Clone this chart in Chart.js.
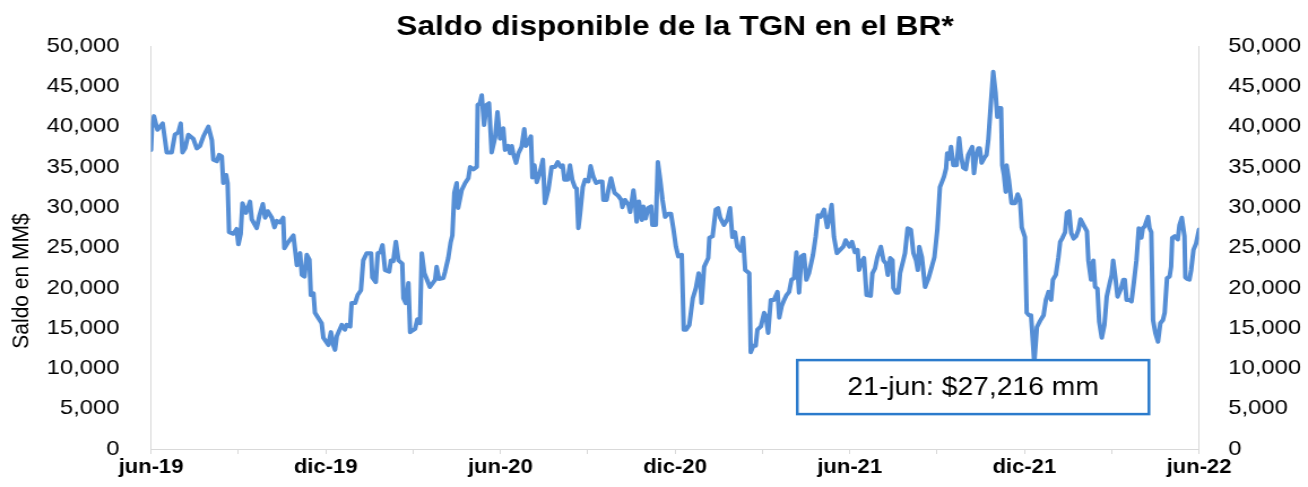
<!DOCTYPE html>
<html lang="es">
<head>
<meta charset="utf-8">
<title>Saldo disponible de la TGN en el BR</title>
<script src="https://cdn.jsdelivr.net/npm/chart.js@4.4.1/dist/chart.umd.min.js"></script>
<style>
    html, body { margin: 0; padding: 0; background: #fff; overflow: hidden; }
    /* el original está estirado en horizontal (~1.13), se reproduce igual */
    #wrap { width: 1157px; height: 487px; transform: scaleX(1.1305); transform-origin: 0 0; }
</style>
</head>
<body>
<div id="wrap"><canvas id="chart-saldo"></canvas></div>
<script>
const titulo = 'Saldo disponible de la TGN en el BR*';
const tituloEjeY = 'Saldo en MM$';
const etiquetasX = ['jun-19', 'dic-19', 'jun-20', 'dic-20', 'jun-21', 'dic-21', 'jun-22'];
const ultimaFecha = '21-jun';

// meses transcurridos desde jun-19
const meses = [
    0.00, 0.03, 0.10, 0.22, 0.40, 0.54, 0.71, 0.82, 0.94, 1.02, 1.08, 1.17, 1.28, 1.45, 1.57, 1.68, 1.80, 1.97, 2.09, 2.14,
    2.26, 2.34, 2.43, 2.48, 2.58, 2.63, 2.68, 2.83, 2.94, 3.00, 3.08, 3.14, 3.26, 3.40, 3.46, 3.63, 3.72, 3.84, 3.92, 4.01,
    4.15, 4.24, 4.32, 4.43, 4.54, 4.58, 4.72, 4.89, 5.01, 5.12, 5.18, 5.27, 5.35, 5.44, 5.49, 5.58, 5.63, 5.86, 5.92, 6.09,
    6.18, 6.26, 6.32, 6.38, 6.55, 6.66, 6.72, 6.84, 6.89, 7.01, 7.10, 7.21, 7.29, 7.41, 7.56, 7.60, 7.72, 7.79, 7.87, 7.95,
    8.04, 8.18, 8.24, 8.32, 8.41, 8.50, 8.63, 8.67, 8.75, 8.84, 8.90, 8.98, 9.07, 9.15, 9.24, 9.30, 9.39, 9.58, 9.76, 9.81,
    9.89, 10.04, 10.10, 10.21, 10.29, 10.35, 10.42, 10.50, 10.55, 10.67, 10.79, 10.90, 10.96, 11.07, 11.19, 11.22, 11.30, 11.36, 11.44, 11.53,
    11.61, 11.70, 11.82, 11.90, 11.99, 12.10, 12.16, 12.27, 12.33, 12.39, 12.44, 12.54, 12.62, 12.73, 12.82, 12.88, 12.96, 13.05, 13.10, 13.17,
    13.25, 13.36, 13.46, 13.53, 13.65, 13.76, 13.88, 13.97, 14.07, 14.14, 14.20, 14.31, 14.39, 14.47, 14.56, 14.62, 14.68, 14.74, 14.83, 14.91,
    15.02, 15.10, 15.19, 15.29, 15.42, 15.50, 15.54, 15.65, 15.73, 15.80, 15.92, 16.05, 16.15, 16.19, 16.28, 16.40, 16.46, 16.57, 16.63, 16.68,
    16.76, 16.86, 16.91, 16.99, 17.08, 17.18, 17.22, 17.34, 17.41, 17.49, 17.57, 17.66, 17.77, 17.86, 17.94, 18.03, 18.11, 18.23, 18.30, 18.38,
    18.49, 18.61, 18.72, 18.81, 18.87, 18.91, 19.00, 19.14, 19.18, 19.29, 19.40, 19.48, 19.55, 19.68, 19.80, 19.89, 19.97, 20.06, 20.14, 20.26,
    20.34, 20.41, 20.55, 20.60, 20.69, 20.77, 20.83, 20.95, 21.06, 21.12, 21.20, 21.29, 21.40, 21.52, 21.58, 21.66, 21.75, 21.83, 21.92, 22.00,
    22.09, 22.17, 22.26, 22.34, 22.43, 22.51, 22.60, 22.74, 22.83, 22.91, 23.00, 23.12, 23.23, 23.31, 23.38, 23.46, 23.56, 23.67, 23.78, 23.86,
    23.99, 24.08, 24.18, 24.27, 24.32, 24.41, 24.49, 24.58, 24.72, 24.78, 24.87, 24.95, 25.07, 25.16, 25.25, 25.31, 25.39, 25.47, 25.50, 25.59,
    25.67, 25.73, 25.84, 25.90, 25.99, 26.10, 26.19, 26.28, 26.34, 26.39, 26.48, 26.59, 26.70, 26.82, 26.91, 27.01, 27.10, 27.24, 27.31, 27.35,
    27.42, 27.48, 27.56, 27.67, 27.76, 27.82, 27.90, 27.99, 28.07, 28.21, 28.27, 28.34, 28.42, 28.47, 28.53, 28.62, 28.70, 28.76, 28.84, 28.93,
    29.01, 29.07, 29.13, 29.20, 29.24, 29.30, 29.36, 29.39, 29.47, 29.56, 29.68, 29.77, 29.85, 29.91, 30.02, 30.08, 30.16, 30.23, 30.34, 30.43,
    30.54, 30.66, 30.74, 30.83, 30.92, 30.98, 31.08, 31.17, 31.23, 31.31, 31.40, 31.46, 31.54, 31.61, 31.69, 31.78, 31.86, 31.93, 32.03, 32.15,
    32.20, 32.29, 32.37, 32.43, 32.51, 32.57, 32.66, 32.75, 32.83, 32.94, 33.00, 33.05, 33.13, 33.20, 33.32, 33.40, 33.45, 33.51, 33.60, 33.68,
    33.76, 33.85, 33.93, 34.02, 34.07, 34.13, 34.25, 34.30, 34.36, 34.42, 34.50, 34.59, 34.67, 34.76, 34.82, 34.90, 34.99, 35.04, 35.08, 35.16,
    35.27, 35.33, 35.41, 35.50, 35.53, 35.59, 35.67, 35.73, 35.81, 35.90, 36.00
];

// saldo en MM$
const saldo = [
    37100, 39800, 41300, 39600, 40400, 36800, 36800, 39000, 39300, 40400, 36800, 37300, 39000, 38500, 37300, 37600, 38800, 40000, 38300, 35900,
    35700, 36500, 36300, 33000, 34000, 33000, 26900, 26700, 27300, 25400, 26700, 30500, 29300, 30700, 28500, 27400, 28900, 30400, 28700, 29500,
    28700, 27500, 28300, 28100, 28700, 24900, 25700, 26500, 22800, 24300, 21600, 21400, 24100, 23500, 19100, 19300, 16900, 15600, 13800, 12900,
    14500, 12900, 12300, 14000, 15400, 14800, 15400, 15200, 18100, 18100, 19100, 19700, 23400, 24300, 24300, 21300, 20700, 24300, 24400, 25300,
    22200, 22000, 23400, 23300, 25700, 23400, 23000, 18700, 18100, 20600, 14500, 14700, 14900, 16100, 15600, 24300, 21800, 20100, 21000, 22600,
    21100, 21200, 22000, 23700, 25600, 26500, 31800, 33000, 29900, 32100, 33000, 33600, 35000, 34700, 35000, 42700, 42900, 43900, 40200, 42700,
    42900, 36800, 38700, 41800, 38500, 39800, 37100, 37600, 36700, 37600, 36700, 35500, 36700, 37500, 39700, 37600, 38100, 38800, 33700, 35200,
    33100, 34300, 35900, 30500, 32200, 35000, 35000, 35600, 35000, 35200, 33400, 33400, 35200, 33400, 32500, 32300, 27400, 29200, 32500, 33400,
    33200, 35100, 33800, 33000, 33200, 33200, 30900, 30900, 32500, 33600, 31800, 31400, 30900, 30000, 30900, 30300, 29400, 32100, 30500, 28200,
    30700, 28400, 30100, 28600, 29900, 30100, 27800, 27800, 35600, 33400, 30900, 28800, 29200, 29200, 27400, 25100, 23900, 24100, 14800, 14800,
    15400, 18700, 20000, 21800, 21000, 18100, 22600, 23700, 26200, 26400, 29700, 29900, 28700, 27800, 28500, 29900, 26300, 26900, 25100, 24600,
    26200, 22200, 21800, 12000, 12800, 12800, 14800, 15200, 16900, 16500, 14400, 18500, 18500, 19500, 16300, 17700, 18500, 19100, 19500, 21000,
    21200, 24400, 19400, 23900, 24100, 21000, 21800, 24100, 26300, 29000, 28800, 29700, 27500, 28800, 30300, 26300, 24300, 24700, 25100, 25900,
    25100, 25700, 24400, 24700, 22200, 23300, 23700, 19100, 19000, 21800, 22400, 23800, 25100, 23400, 23000, 21600, 23700, 23400, 20000, 19400,
    19400, 21800, 23400, 24300, 27400, 27200, 24300, 23400, 22200, 25100, 23800, 20100, 21100, 22600, 23800, 27200, 32500, 33800, 34800, 36700,
    36000, 37500, 35200, 35200, 38600, 36500, 34900, 34700, 36500, 37500, 34200, 36300, 37300, 37300, 35500, 36100, 36500, 38300, 42400, 46800,
    44200, 41200, 42300, 42300, 35200, 34000, 31900, 35200, 33300, 30500, 30500, 31600, 30900, 27500, 26300, 16900, 16600, 16600, 10700, 15100,
    15900, 16600, 18500, 19500, 18500, 21000, 21600, 23800, 25700, 26200, 26900, 29300, 29500, 26800, 26100, 26400, 27200, 28500, 27800, 27000,
    23400, 21000, 23400, 20100, 19900, 15800, 13800, 15400, 18900, 20700, 21600, 23400, 21200, 18900, 19900, 21000, 21000, 18500, 18500, 18300,
    20600, 23400, 27400, 26200, 27400, 27600, 28800, 27400, 26900, 16000, 14400, 13300, 15600, 16000, 16900, 21200, 21400, 22600, 26200, 26400,
    26000, 27800, 28700, 26400, 21300, 21100, 21000, 22200, 24700, 25500, 27216
];

const fmt = v => v.toLocaleString('en-US');
const fuente = "'Liberation Sans', Arial, sans-serif";
Chart.defaults.font.family = fuente;
Chart.defaults.color = '#000';

// titulo del eje izquierdo, un poco por debajo del centro como en el original
const rotuloEjeY = {
    id: 'rotuloEjeY',
    afterDraw(chart) {
        const ctx = chart.ctx;
        ctx.save();
        ctx.translate(19.5, 281);
        ctx.rotate(-Math.PI / 2);
        ctx.font = '21px ' + fuente;
        ctx.fillStyle = '#000';
        ctx.textAlign = 'center';
        ctx.textBaseline = 'middle';
        ctx.fillText(tituloEjeY, 0, 0);
        ctx.restore();
    }
};

// recuadro con el ultimo dato
const cuadroUltimo = {
    id: 'cuadroUltimo',
    afterDatasetsDraw(chart) {
        const { ctx, scales: { x, y } } = chart;
        const x0 = x.getPixelForValue(22.2), x1 = x.getPixelForValue(34.28);
        const y0 = y.getPixelForValue(11030), y1 = y.getPixelForValue(4330);
        ctx.save();
        ctx.fillStyle = '#fff';
        ctx.fillRect(x0, y0, x1 - x0, y1 - y0);
        ctx.strokeStyle = '#2b7bcc';
        ctx.lineWidth = 2.5;
        ctx.strokeRect(x0, y0, x1 - x0, y1 - y0);
        ctx.font = '25px ' + fuente;
        ctx.fillStyle = '#000';
        ctx.textAlign = 'center';
        ctx.textBaseline = 'middle';
        ctx.fillText(`${ultimaFecha}: $${fmt(saldo[saldo.length - 1])} mm`, (x0 + x1) / 2, (y0 + y1) / 2 + 1);
        ctx.restore();
    }
};

const ejeY = (pos, ancho, pad) => ({
    position: pos,
    min: 0,
    max: 50000,
    grid: { display: false },
    border: { display: true, color: '#d9d9d9', width: 1 },
    ticks: { stepSize: 5000, padding: pad, color: '#000', font: { size: 21 }, callback: v => fmt(v) },
    afterFit: s => { s.width = ancho; }
});

new Chart(document.getElementById('chart-saldo'), {
    type: 'line',
    data: {
        datasets: [{
            data: meses.map((m, i) => ({ x: m, y: saldo[i] })),
            borderColor: '#558ed5',
            borderWidth: 4,
            borderJoinStyle: 'round',
            borderCapStyle: 'round',
            pointRadius: 0,
            tension: 0,
            fill: false,
            yAxisID: 'y'
        }]
    },
    options: {
        responsive: true,
        maintainAspectRatio: false,
        animation: false,
        layout: { padding: 0 },
        plugins: {
            legend: { display: false },
            tooltip: { enabled: false },
            title: {
                display: true,
                text: titulo,
                fullSize: false,
                color: '#000',
                font: { size: 28, weight: 'bold' },
                padding: { top: 10, bottom: 2.4 }
            }
        },
        scales: {
            x: {
                type: 'linear',
                min: 0,
                max: 36,
                grid: { display: true, drawOnChartArea: false, drawTicks: true, tickLength: 5, color: '#d9d9d9' },
                border: { display: true, color: '#d9d9d9', width: 1 },
                ticks: {
                    stepSize: 3,
                    autoSkip: false,
                    maxRotation: 0,
                    padding: 2,
                    color: '#000',
                    font: { size: 19.5, weight: 'bold' },
                    callback: v => (v % 6 === 0 ? etiquetasX[v / 6] : '')
                },
                afterFit: s => { s.height = 38; }
            },
            y: ejeY('left', 133.6, 20),
            y2: ejeY('right', 96.4, 18)
        }
    },
    plugins: [rotuloEjeY, cuadroUltimo]
});
</script>
</body>
</html>
